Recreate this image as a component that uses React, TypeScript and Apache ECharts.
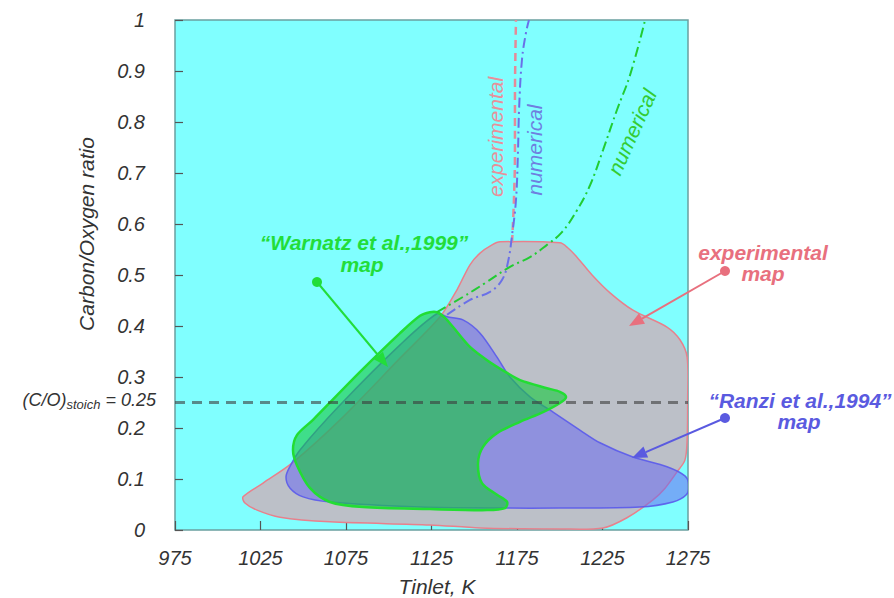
import React, { useEffect, useRef } from "react";
import * as echarts from "echarts";

// Axis settings
const X_MIN = 975;
const X_MAX = 1275;
const X_STEP = 50;
const Y_MIN = 0;
const Y_MAX = 1;
const Y_STEP = 0.1;
const STOICH = 0.25;

// Region outlines [Tinlet K, C/O ratio]
const experimentalMap: number[][] = [
  [1014.8, 0.065], [1026.5, 0.092], [1043.4, 0.131], [1071.5, 0.216], [1106.6, 0.337],
  [1130.0, 0.418], [1139.9, 0.471], [1147.5, 0.52], [1153.4, 0.543], [1160.4, 0.559],
  [1165.1, 0.565], [1200.1, 0.563], [1204.8, 0.553], [1210.1, 0.535], [1218.9, 0.5],
  [1229.4, 0.465], [1242.8, 0.431], [1262.7, 0.398], [1270.3, 0.373], [1274.5, 0.339],
  [1274.8, 0.255], [1274.5, 0.176], [1273.2, 0.137], [1268.6, 0.114], [1261.6, 0.082],
  [1254.5, 0.059], [1239.3, 0.024], [1225.3, 0.004], [1200.1, 0.002], [1153.4, 0.004],
  [1124.1, 0.01], [1065.6, 0.016], [1036.4, 0.025], [1023.0, 0.039], [1015.9, 0.053],
];

const ranziMap: number[][] = [
  [1128.2, 0.424], [1134.1, 0.418], [1143.4, 0.412], [1153.4, 0.386], [1163.3, 0.339],
  [1170.9, 0.3], [1182.6, 0.261], [1196.1, 0.231], [1211.8, 0.196], [1223.5, 0.171],
  [1242.8, 0.143], [1262.7, 0.124], [1273.2, 0.106], [1275.5, 0.088], [1274.0, 0.069],
  [1266.2, 0.055], [1246.9, 0.045], [1200.1, 0.043], [1165.1, 0.043], [1118.3, 0.045],
  [1065.6, 0.055], [1049.9, 0.065], [1042.3, 0.082], [1039.9, 0.104], [1042.3, 0.125],
  [1048.1, 0.157], [1071.5, 0.245], [1106.6, 0.363],
];

const warnatzMap: number[][] = [
  [1118.3, 0.42], [1124.1, 0.427], [1128.2, 0.427], [1132.9, 0.416], [1137.6, 0.398],
  [1147.5, 0.359], [1157.5, 0.333], [1169.2, 0.308], [1176.8, 0.294], [1192.5, 0.278],
  [1200.1, 0.271], [1203.7, 0.261], [1200.1, 0.249], [1190.2, 0.231], [1176.8, 0.212],
  [1163.3, 0.19], [1155.1, 0.163], [1152.2, 0.131], [1154.5, 0.092], [1163.3, 0.069],
  [1169.2, 0.055], [1168.0, 0.043], [1157.5, 0.039], [1124.1, 0.041], [1084.9, 0.045],
  [1065.6, 0.055], [1054.0, 0.082], [1046.3, 0.127], [1044.0, 0.157], [1046.3, 0.186],
  [1055.7, 0.216], [1083.2, 0.31], [1106.6, 0.386],
];

// Boundary curves
const experimentalLine: number[][] = [
  [1172.1, 0.563], [1173.2, 0.647], [1173.8, 0.745], [1173.8, 0.843], [1174.1, 0.941], [1174.4, 1.0],
];
const ranziNumerical: number[][] = [
  [1134.1, 0.422], [1147.5, 0.451], [1159.2, 0.467], [1166.2, 0.49], [1169.7, 0.525],
  [1172.1, 0.578], [1174.4, 0.647], [1175.6, 0.745], [1176.2, 0.824], [1177.9, 0.922],
  [1180.3, 0.976], [1182.0, 1.0],
];
const warnatzNumerical: number[][] = [
  [1128.2, 0.427], [1143.4, 0.457], [1156.3, 0.484], [1170.9, 0.516], [1182.6, 0.535],
  [1192.5, 0.559], [1201.3, 0.584], [1210.1, 0.627], [1217.7, 0.676], [1225.3, 0.745],
  [1233.5, 0.824], [1241.1, 0.892], [1249.9, 1.0],
];

const FONT = '"Liberation Sans", Arial, Helvetica, sans-serif';

function regionSeries(name: string, pts: number[][], fill: string, stroke: string, lw: number, z: number) {
  return {
    type: "custom",
    name,
    z,
    clip: true,
    silent: true,
    data: pts,
    encode: { x: 0, y: 1 },
    renderItem: (params: any, api: any) => {
      if (params.dataIndex !== 0) return null;
      const points = pts.map((p) => api.coord(p));
      return {
        type: "polygon",
        shape: { points, smooth: 0.3 },
        style: { fill, stroke, lineWidth: lw },
      };
    },
  };
}

function lineSeries(name: string, pts: number[][], color: string, dash: number[], width: number) {
  return {
    type: "line",
    name,
    z: 6,
    data: pts,
    smooth: 0.4,
    symbol: "none",
    silent: true,
    lineStyle: { color, width, type: dash },
  };
}

function arrow(x1: number, y1: number, x2: number, y2: number, color: string) {
  const a = Math.atan2(y2 - y1, x2 - x1);
  const L = 15;
  const W = 6;
  const c = Math.cos(a);
  const s = Math.sin(a);
  const bx = x2 - L * c;
  const by = y2 - L * s;
  return [
    { type: "line", shape: { x1, y1, x2: bx, y2: by }, style: { stroke: color, lineWidth: 2 }, z: 20 },
    { type: "circle", shape: { cx: x1, cy: y1, r: 5 }, style: { fill: color }, z: 20 },
    {
      type: "polygon",
      shape: { points: [[x2, y2], [bx - W * s, by + W * c], [bx + W * s, by - W * c]] },
      style: { fill: color },
      z: 20,
    },
  ];
}

function label(text: string, x: number, y: number, color: string, size: number, weight: string, rotation = 0) {
  return {
    type: "text",
    x,
    y,
    rotation,
    z: 20,
    style: {
      text,
      fill: color,
      fontSize: size,
      fontStyle: "italic",
      fontWeight: weight,
      fontFamily: FONT,
      align: "center",
      verticalAlign: "middle",
    },
  };
}

export default function App() {
  const ref = useRef<HTMLDivElement>(null);
  useEffect(() => {
    if (!ref.current) return;
    const chart = echarts.init(ref.current, undefined, { renderer: "svg" });
    const green = "#22dd3a";
    const pink = "#e8707e";
    const blue = "#5a5ae0";
    const option: any = {
      animation: false,
      backgroundColor: "#ffffff",
      grid: {
        left: 175,
        right: 206,
        top: 20,
        bottom: 68,
        show: true,
        backgroundColor: "#80ffff",
        borderColor: "#6aa0a0",
        borderWidth: 1.5,
      },
      xAxis: {
        type: "value",
        min: X_MIN,
        max: X_MAX,
        interval: X_STEP,
        axisLine: { show: false },
        axisTick: { show: true, inside: true, length: 9, lineStyle: { color: "#555", width: 1.2 } },
        splitLine: { show: false },
        axisLabel: {
          margin: 18,
          fontSize: 20,
          fontStyle: "italic",
          fontFamily: FONT,
          color: "#333",
          formatter: (v: number) => String(v),
        },
      },
      yAxis: {
        type: "value",
        min: Y_MIN,
        max: Y_MAX,
        interval: Y_STEP,
        axisLine: { show: false },
        axisTick: { show: true, inside: true, length: 8, lineStyle: { color: "#555", width: 1.2 } },
        splitLine: { show: false },
        axisLabel: {
          margin: 30,
          fontSize: 20,
          fontStyle: "italic",
          fontFamily: FONT,
          color: "#333",
          formatter: (v: number) => String(Math.round(v * 10) / 10),
        },
      },
      series: [
        regionSeries("experimental map", experimentalMap, "#bcc0c8", "#e8808c", 1.5, 2),
        regionSeries("Ranzi et al., 1994 map", ranziMap, "rgba(105,105,240,0.55)", "rgba(90,90,235,0.9)", 1.5, 3),
        regionSeries("Warnatz et al., 1999 map", warnatzMap, "rgba(20,200,60,0.6)", "#22dd33", 2.5, 4),
        lineSeries("experimental", experimentalLine, "#e58a98", [8, 5], 2.5),
        lineSeries("numerical (Ranzi)", ranziNumerical, "#6a70e8", [10, 4, 2, 4], 2),
        lineSeries("numerical (Warnatz)", warnatzNumerical, "#22cc33", [10, 4, 2, 4], 2),
        {
          type: "line",
          name: "stoich",
          z: 8,
          data: [[X_MIN, STOICH], [X_MAX, STOICH]],
          symbol: "none",
          silent: true,
          lineStyle: { color: "rgba(60,60,60,0.6)", width: 3, type: [10, 7] },
        },
      ],
      graphic: [
        label("Carbon/Oxygen ratio", 86, 234, "#333", 21, "normal", Math.PI / 2),
        label("Tinlet, K", 437, 586, "#333", 21, "normal"),
        {
          type: "text",
          x: 156,
          y: 400,
          z: 20,
          style: {
            text: "{a|(C/O)}{b|stoich}{a| = 0.25}",
            align: "right",
            verticalAlign: "middle",
            fill: "#333",
            rich: {
              a: { fontSize: 18, fontStyle: "italic", fontFamily: FONT, fill: "#333", lineHeight: 22 },
              b: { fontSize: 13, fontStyle: "italic", fontFamily: FONT, fill: "#333", lineHeight: 22, verticalAlign: "bottom", padding: [6, 0, 0, 0] },
            },
          },
        },
        label("\u201CWarnatz et al.,1999\u201D", 364, 242, green, 21, "bold"),
        label("map", 362, 264, green, 21, "bold"),
        label("experimental", 763, 252, pink, 21, "bold"),
        label("map", 763, 273, pink, 21, "bold"),
        label("\u201CRanzi et al.,1994\u201D", 800, 400, blue, 21, "bold"),
        label("map", 799, 421, blue, 21, "bold"),
        label("experimental", 495, 137, "#e8909a", 21, "normal", Math.PI / 2),
        label("numerical", 534, 150, "#6f7fe0", 21, "normal", Math.PI / 2),
        label("numerical", 632, 132, "#33cc33", 21, "normal", (66 * Math.PI) / 180),
        ...arrow(317, 282, 388, 367, green),
        ...arrow(725, 271, 629, 326, pink),
        ...arrow(725, 418, 632, 458, blue),
      ],
    };
    chart.setOption(option);
    return () => chart.dispose();
  }, []);
  return (
    <div
      ref={ref}
      style={{ position: "fixed", left: 0, top: 0, width: 894, height: 598 }}
    />
  );
}
